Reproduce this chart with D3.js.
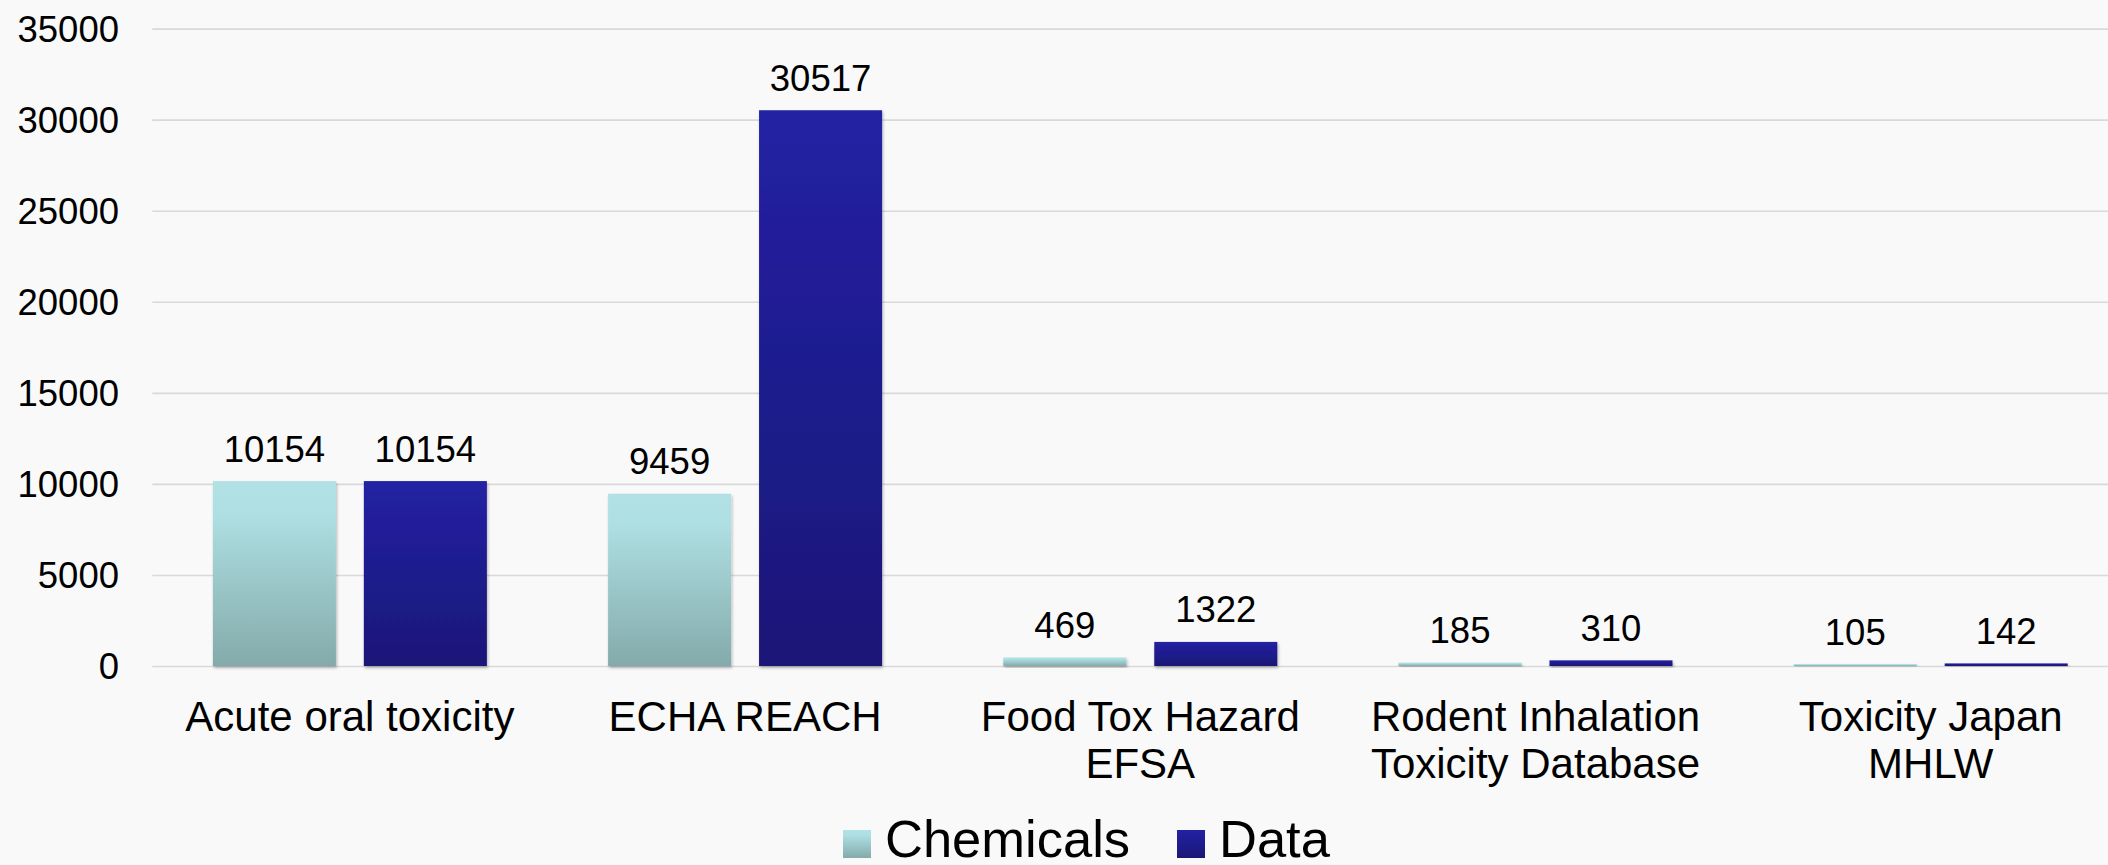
<!DOCTYPE html>
<html>
<head>
<meta charset="utf-8">
<script src="https://cdn.jsdelivr.net/npm/d3@7"></script>
<style>
  html, body { margin: 0; padding: 0; background: #f9f9f9; overflow: hidden; }
  svg { display: block; font-family: "Liberation Sans", Arial, sans-serif; }
</style>
</head>
<body>
<svg id="chart" width="2108" height="865"></svg>
<script>
const categories = [
  ["Acute oral toxicity"],
  ["ECHA REACH"],
  ["Food Tox Hazard", "EFSA"],
  ["Rodent Inhalation", "Toxicity Database"],
  ["Toxicity Japan", "MHLW"]
];
const seriesNames = ["Chemicals", "Data"];
const chemicals = [10154, 9459, 469, 185, 105];
const dataVals = [10154, 30517, 1322, 310, 142];
const yTicks = [0, 5000, 10000, 15000, 20000, 25000, 30000, 35000];

const W = 2108, H = 865;
const svg = d3.select("#chart");
const defs = svg.append("defs");

const gradSpecs = {
  Chemicals: [["0%", "#b1e1e5"], ["18%", "#aedfe2"], ["100%", "#84aaab"]],
  Data: [["0%", "#2321a4"], ["100%", "#1a1777"]]
};
Object.entries(gradSpecs).forEach(([name, stops]) => {
  const g = defs.append("linearGradient").attr("id", "grad-" + name)
    .attr("x1", 0).attr("y1", 0).attr("x2", 0).attr("y2", 1);
  stops.forEach(([o, c]) => g.append("stop").attr("offset", o).attr("stop-color", c));
});
const f = defs.append("filter").attr("id", "shadow")
  .attr("x", "-10%").attr("y", "-10%").attr("width", "130%").attr("height", "130%");
f.append("feDropShadow").attr("dx", 1).attr("dy", 2).attr("stdDeviation", 1.6)
  .attr("flood-color", "#000").attr("flood-opacity", 0.28);

const plotLeft = 152.3, step = 395.2;
const x0 = d3.scaleBand().domain(d3.range(categories.length))
  .range([plotLeft, plotLeft + step * categories.length])
  .paddingInner(0.3067).paddingOuter(0.1533);
const x1 = d3.scaleBand().domain(seriesNames).range([0, x0.bandwidth()]).paddingInner(0.185);
const y = d3.scaleLinear().domain([0, 35000]).range([666, 28.6]);

// gridlines
const grid = svg.append("g").attr("transform", `translate(${plotLeft},0)`)
  .call(d3.axisLeft(y).tickValues(yTicks).tickSize(-(W - plotLeft)).tickFormat(""));
grid.select(".domain").remove();
grid.selectAll(".tick line").attr("stroke", "#d9d9d9").attr("stroke-width", 1.6);

// y tick labels
const yAxis = svg.append("g").attr("transform", `translate(119,0)`)
  .call(d3.axisLeft(y).tickValues(yTicks).tickSize(0).tickPadding(0).tickFormat(d3.format("d")));
yAxis.select(".domain").remove();
yAxis.selectAll("text").attr("font-size", 36.5).attr("fill", "#000")
  .attr("font-family", "Liberation Sans, Arial, sans-serif").attr("dy", "0.35em");

const rows = categories.map((c, i) => ({ i, values: [
  { s: "Chemicals", v: chemicals[i] }, { s: "Data", v: dataVals[i] }
]}));

const groups = svg.append("g").selectAll("g").data(rows).join("g")
  .attr("transform", d => `translate(${x0(d.i)},0)`);

groups.selectAll("rect").data(d => d.values).join("rect")
  .attr("x", d => x1(d.s)).attr("width", x1.bandwidth())
  .attr("y", d => y(d.v)).attr("height", d => y(0) - y(d.v))
  .attr("fill", d => `url(#grad-${d.s})`)
  .attr("filter", "url(#shadow)");

groups.selectAll("text.val").data(d => d.values).join("text")
  .attr("class", "val")
  .attr("x", d => x1(d.s) + x1.bandwidth() / 2)
  .attr("y", d => y(d.v) - 19.5)
  .attr("text-anchor", "middle").attr("font-size", 36.5).attr("fill", "#000")
  .text(d => d.v);

// category labels
const catG = svg.append("g");
categories.forEach((lines, i) => {
  const t = catG.append("text")
    .attr("x", x0(i) + x0.bandwidth() / 2).attr("y", 731)
    .attr("text-anchor", "middle").attr("font-size", 42).attr("fill", "#000");
  lines.forEach((ln, j) => t.append("tspan")
    .attr("x", x0(i) + x0.bandwidth() / 2).attr("y", 731 + j * 46.5).text(ln));
});

// legend
const legendItems = [
  { s: "Chemicals", sx: 843, tx: 885 },
  { s: "Data", sx: 1177, tx: 1219 }
];
const lg = svg.append("g");
legendItems.forEach(it => {
  lg.append("rect").attr("x", it.sx).attr("y", 830).attr("width", 28).attr("height", 28)
    .attr("fill", `url(#grad-${it.s})`);
  lg.append("text").attr("x", it.tx).attr("y", 857).attr("font-size", 52.5).attr("fill", "#000").text(it.s);
});
</script>
</body>
</html>
